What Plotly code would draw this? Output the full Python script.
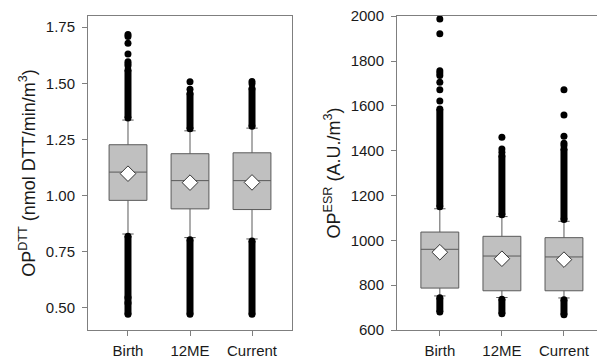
import plotly.graph_objects as go
from plotly.subplots import make_subplots

categories = ["Birth", "12ME", "Current"]

# OP DTT (left panel)
dtt_q1 = [0.978, 0.940, 0.937]
dtt_median = [1.104, 1.066, 1.066]
dtt_q3 = [1.226, 1.186, 1.190]
dtt_mean = [1.097, 1.057, 1.058]
dtt_lowerfence = [0.828, 0.812, 0.806]
dtt_upperfence = [1.336, 1.288, 1.300]
# dense outlier bands: (category, low, high)
dtt_band_cat = ["Birth", "Birth", "12ME", "12ME", "Current", "Current"]
dtt_band_lo = [1.345, 0.470, 1.297, 0.470, 1.308, 0.470]
dtt_band_hi = [1.559, 0.818, 1.455, 0.802, 1.477, 0.797]
# isolated outliers
dtt_out_cat = ["Birth"] * 9 + ["12ME"] * 2 + ["Current"] * 2
dtt_out_val = [1.717, 1.709, 1.679, 1.631, 1.596, 1.587, 1.578, 0.545, 0.520,
               1.507, 1.473, 1.508, 1.498]

# OP ESR (right panel)
esr_q1 = [787, 775, 775]
esr_median = [960, 930, 926]
esr_q3 = [1037, 1018, 1012]
esr_mean = [947, 918, 914]
esr_lowerfence = [752, 745, 743]
esr_upperfence = [1141, 1106, 1085]
esr_band_cat = ["Birth", "Birth", "12ME", "12ME", "Current", "Current"]
esr_band_lo = [1150, 680, 1114, 672, 1093, 668]
esr_band_hi = [1586, 744, 1378, 737, 1408, 735]
esr_out_cat = ["Birth"] * 8 + ["12ME"] * 3 + ["Current"] * 5
esr_out_val = [1988, 1922, 1757, 1747, 1735, 1705, 1672, 1622,
               1460, 1408, 1393,
               1672, 1559, 1464, 1433, 1423]

FONT = "Liberation Sans, Arial, sans-serif"
BOX_FILL = "#c0c0c0"
BOX_LINE = "#5a5a5a"
AX_LINE = "#7f7f7f"

# the page body has an 8px margin, so the figure is 8px smaller each way
W, H = 597, 353

fig = make_subplots(rows=1, cols=2)


def add_panel(col, q1, med, q3, mean, lf, uf, bcat, blo, bhi, ocat, oval):
    fig.add_trace(go.Box(
        x=categories, q1=q1, median=med, q3=q3, lowerfence=lf, upperfence=uf,
        boxpoints=False, fillcolor=BOX_FILL, line=dict(color=BOX_LINE, width=1),
        width=0.61, whiskerwidth=0.3, showlegend=False, hoverinfo="skip"),
        row=1, col=col)
    bx, by = [], []
    for c, lo, hi in zip(bcat, blo, bhi):
        bx += [c, c, None]
        by += [lo, hi, None]
    fig.add_trace(go.Scatter(
        x=bx, y=by, mode="lines+markers",
        line=dict(color="black", width=7),
        marker=dict(color="black", size=7),
        showlegend=False, hoverinfo="skip"), row=1, col=col)
    fig.add_trace(go.Scatter(
        x=ocat, y=oval, mode="markers",
        marker=dict(color="black", size=7),
        showlegend=False, hoverinfo="skip"), row=1, col=col)
    fig.add_trace(go.Scatter(
        x=categories, y=mean, mode="markers",
        marker=dict(symbol="diamond", size=12, color="white",
                    line=dict(color="#333333", width=1)),
        showlegend=False, hoverinfo="skip"), row=1, col=col)


add_panel(1, dtt_q1, dtt_median, dtt_q3, dtt_mean, dtt_lowerfence, dtt_upperfence,
          dtt_band_cat, dtt_band_lo, dtt_band_hi, dtt_out_cat, dtt_out_val)
add_panel(2, esr_q1, esr_median, esr_q3, esr_mean, esr_lowerfence, esr_upperfence,
          esr_band_cat, esr_band_lo, esr_band_hi, esr_out_cat, esr_out_val)

axis_common = dict(showgrid=False, zeroline=False, showline=True, mirror=True,
                   linecolor=AX_LINE, linewidth=1, ticks="outside", ticklen=5,
                   tickcolor=AX_LINE, tickfont=dict(family=FONT, size=15, color="#1a1a1a"),
                   automargin=False, ticklabeloverflow="allow")

fig.update_xaxes(**axis_common, type="category", categoryorder="array",
                 categoryarray=categories, ticklabelstandoff=2)
fig.update_xaxes(domain=[80 / W, 284 / W], range=[-0.645, 2.645], row=1, col=1)
fig.update_xaxes(domain=[389 / W, 596 / W], range=[-0.69, 2.645], row=1, col=2)

ydom = [1 - 322 / H, 1 - 8 / H]
fig.update_yaxes(**axis_common, ticklabelstandoff=4)
fig.update_yaxes(domain=ydom, range=[0.40, 1.80], tickvals=[0.5, 0.75, 1.0, 1.25, 1.5, 1.75],
                 ticktext=["0.50", "0.75", "1.00", "1.25", "1.50", "1.75"],
                 title=dict(text="OP<sup>DTT</sup> (nmol DTT/min/m<sup>3</sup>)",
                            font=dict(family=FONT, size=18, color="#1a1a1a"), standoff=5),
                 row=1, col=1)
fig.update_yaxes(domain=ydom, range=[600, 2001], tickvals=[600, 800, 1000, 1200, 1400, 1600, 1800, 2000],
                 title=dict(text="OP<sup>ESR</sup> (A.U./m<sup>3</sup>)",
                            font=dict(family=FONT, size=18, color="#1a1a1a"), standoff=5),
                 row=1, col=2)

fig.update_layout(width=W, height=H, margin=dict(l=0, r=0, t=0, b=0),
                  plot_bgcolor="white", paper_bgcolor="white", showlegend=False)

fig.write_html("out.html")
